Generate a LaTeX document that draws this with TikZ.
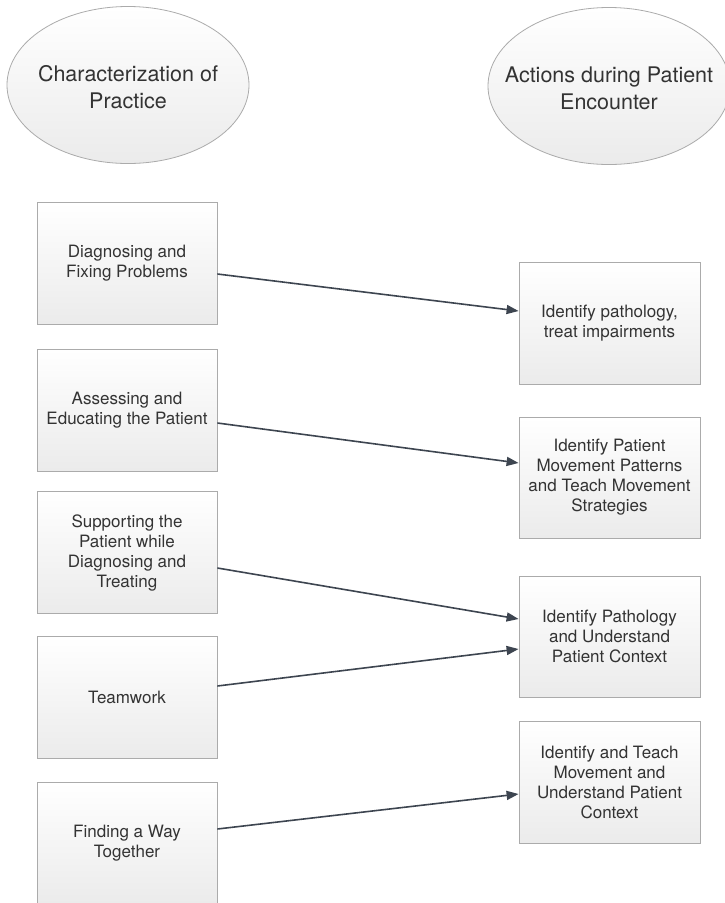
\documentclass[tikz,border=0pt]{standalone}
\usepackage{fontspec}
\setmainfont{TeX Gyre Heros}
\usetikzlibrary{arrows.meta,shapes.geometric}
\definecolor{txt}{HTML}{333333}
\definecolor{edge}{HTML}{ABABAB}
\definecolor{arr}{HTML}{3D4550}
\definecolor{fillbot}{HTML}{EBEBEB}
\tikzset{
  oval/.style={ellipse, draw=edge, line width=0.8pt, top color=white, bottom color=fillbot,
    minimum width=242pt, minimum height=157pt, inner sep=0pt},
  ovaltext/.style={inner sep=0pt, text=txt, font=\fontsize{21.5}{27}\selectfont, align=center},
  box/.style={rectangle, draw=edge, line width=0.8pt, top color=white, bottom color=fillbot,
    minimum width=180pt, minimum height=122pt, inner sep=0pt, text=txt,
    font=\fontsize{17}{20}\selectfont, align=center},
  link/.style={draw=arr, line width=1.6pt, -{Triangle[length=12pt,width=9pt]}}
}
\begin{document}
\begin{tikzpicture}[x=1pt,y=-1pt]
\useasboundingbox (0,0) rectangle (725,903);
\clip (0,0) rectangle (725,903);
\node[oval] (e1) at (128,85) {};
\node[ovaltext] (t1) at ([yshift=-2pt]e1.center) {Characterization of\\Practice};
\node[oval] (e2) at (609,86) {};
\node[ovaltext] (t2) at ([yshift=-2pt]e2.center) {Actions during Patient\\Encounter};

\node[box] (b1) at (127,263) {Diagnosing and\\Fixing Problems};
\node[box] (b2) at (127,410) {Assessing and\\Educating the Patient};
\node[box] (b3) at (127,552.5) {Supporting the\\Patient while\\Diagnosing and\\Treating};
\node[box] (b4) at (127,697.5) {Teamwork};
\node[box] (b5) at (127,843) {Finding a Way\\Together};

\node[box, minimum width=181pt] (r1) at (609.5,323) {Identify pathology,\\treat impairments};
\node[box, minimum width=181pt, minimum height=121pt] (r2) at (609.5,477.5) {Identify Patient\\Movement Patterns\\and Teach Movement\\Strategies};
\node[box, minimum width=181pt, minimum height=121pt] (r3) at (609.5,636.5) {Identify Pathology\\and Understand\\Patient Context};
\node[box, minimum width=181pt] (r4) at (609.5,782) {Identify and Teach\\Movement and\\Understand Patient\\Context};

\draw[link] ([yshift=-11pt]b1.east) -- ([yshift=12pt]r1.west);
\draw[link] ([yshift=-13pt]b2.east) -- ([yshift=14.5pt]r2.west);
\draw[link] ([yshift=-15.5pt]b3.east) -- ([yshift=17.5pt]r3.west);
\draw[link] ([yshift=11.5pt]b4.east) -- ([yshift=-12.5pt]r3.west);
\draw[link] ([yshift=14pt]b5.east) -- ([yshift=-12pt]r4.west);
\end{tikzpicture}
\end{document}
